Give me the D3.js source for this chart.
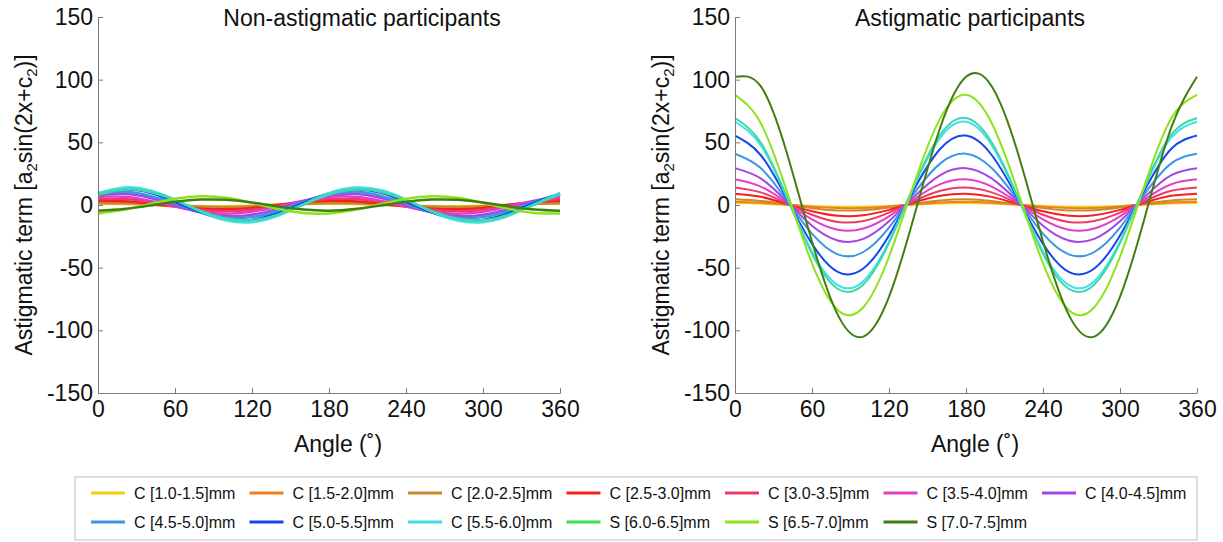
<!DOCTYPE html>
<html>
<head>
<meta charset="utf-8">
<script src="https://cdn.jsdelivr.net/npm/d3@7"></script>
<style>
  body { margin: 0; background: #fff; }
  text { font-family: "Liberation Sans", Arial, sans-serif; fill: #111; }
</style>
</head>
<body>
<svg id="chart" width="1223" height="542"></svg>
<script>
// sampled angles (degrees)
const angles = [0, 20, 40, 60, 80, 100, 120, 140, 160, 180, 200, 220, 240, 260, 280, 300, 320, 340, 360];

const seriesNames = ["C [1.0-1.5]mm", "C [1.5-2.0]mm", "C [2.0-2.5]mm", "C [2.5-3.0]mm", "C [3.0-3.5]mm",
  "C [3.5-4.0]mm", "C [4.0-4.5]mm", "C [4.5-5.0]mm", "C [5.0-5.5]mm", "C [5.5-6.0]mm",
  "S [6.0-6.5]mm", "S [6.5-7.0]mm", "S [7.0-7.5]mm"];

const lineColors = ["#f2cf0c", "#f27f1b", "#c98a2e", "#fb1c1c", "#ee3a68", "#e43fc4", "#a545e6",
  "#3d96e2", "#1547ef", "#43dfe8", "#3cd9a9", "#8ee21c", "#3f7f12"];
const legendColors = ["#f2cf0c", "#f27f1b", "#c98a2e", "#fb1c1c", "#ee3a68", "#e43fc4", "#a545e6",
  "#3d96e2", "#1547ef", "#43dfe8", "#35e055", "#8ee21c", "#3f7f12"];

// Non-astigmatic participants, one row per series, values at `angles`
const nonAstigValues = [
  [1.0, 0.8, 0.2, -0.5, -0.9, -0.9, -0.5, 0.2, 0.8, 1.0, 0.8, 0.2, -0.5, -0.9, -0.9, -0.5, 0.2, 0.8, 1.0],
  [2.0, 1.5, 0.3, -1.0, -1.9, -1.9, -1.0, 0.3, 1.5, 2.0, 1.5, 0.3, -1.0, -1.9, -1.9, -1.0, 0.3, 1.5, 2.0],
  [1.4, 1.4, 0.8, -0.3, -1.1, -1.5, -1.1, -0.3, 0.8, 1.4, 1.4, 0.8, -0.3, -1.1, -1.5, -1.1, -0.3, 0.8, 1.4],
  [3.4, 3.0, 1.2, -1.2, -3.0, -3.4, -2.3, 0.0, 2.3, 3.4, 3.0, 1.2, -1.2, -3.0, -3.4, -2.3, 0.0, 2.3, 3.4],
  [4.7, 4.7, 2.5, -0.9, -3.8, -5.0, -3.8, -0.9, 2.5, 4.7, 4.7, 2.5, -0.9, -3.8, -5.0, -3.8, -0.9, 2.5, 4.7],
  [6.6, 6.6, 3.5, -1.2, -5.4, -7.0, -5.4, -1.2, 3.5, 6.6, 6.6, 3.5, -1.2, -5.4, -7.0, -5.4, -1.2, 3.5, 6.6],
  [7.8, 8.9, 5.8, 0.0, -5.8, -8.9, -7.8, -3.1, 3.1, 7.8, 8.9, 5.8, 0.0, -5.8, -8.9, -7.8, -3.1, 3.1, 7.8],
  [8.5, 10.5, 7.5, 1.1, -5.9, -10.1, -9.6, -4.6, 2.5, 8.5, 10.5, 7.5, 1.1, -5.9, -10.1, -9.6, -4.6, 2.5, 8.5],
  [9.3, 12.5, 9.9, 2.6, -5.9, -11.6, -11.9, -6.6, 1.7, 9.3, 12.5, 9.9, 2.6, -5.9, -11.6, -11.9, -6.6, 1.7, 9.3],
  [9.4, 13.9, 11.9, 4.3, -5.2, -12.4, -13.7, -8.6, 0.5, 9.4, 13.9, 11.9, 4.3, -5.2, -12.4, -13.7, -8.6, 0.5, 9.4],
  [8.4, 12.4, 10.6, 3.9, -4.7, -11.0, -12.2, -7.7, 0.4, 8.4, 12.4, 10.6, 3.9, -4.7, -11.0, -12.2, -7.7, 0.4, 8.4],
  [-6.7, -3.9, 0.7, 5.0, 7.0, 5.7, 1.7, -3.1, -6.4, -6.7, -3.9, 0.7, 5.0, 7.0, 5.7, 1.7, -3.1, -6.4, -6.7],
  [-4.5, -3.2, -0.5, 2.5, 4.3, 4.1, 2.0, -1.1, -3.6, -4.5, -3.2, -0.5, 2.5, 4.3, 4.1, 2.0, -1.1, -3.6, -4.5]
];

// Astigmatic participants
const astigValues = [
  [1.5, 1.1, 0.2, -0.8, -1.4, -1.4, -0.7, 0.4, 1.2, 1.5, 1.1, 0.2, -0.8, -1.4, -1.4, -0.7, 0.4, 1.2, 1.5],
  [2.5, 1.8, 0.3, -1.4, -2.4, -2.3, -1.1, 0.6, 2.0, 2.5, 1.8, 0.3, -1.4, -2.4, -2.3, -1.1, 0.6, 2.0, 2.5],
  [4.5, 3.2, 0.5, -2.5, -4.3, -4.1, -2.0, 1.1, 3.6, 4.5, 3.2, 0.5, -2.5, -4.3, -4.1, -2.0, 1.1, 3.6, 4.5],
  [9.0, 6.5, 0.9, -5.0, -8.6, -8.2, -3.9, 2.2, 7.3, 9.0, 6.5, 0.9, -5.0, -8.6, -8.2, -3.9, 2.2, 7.3, 9.0],
  [14.0, 10.1, 1.5, -7.8, -13.5, -12.8, -6.1, 3.4, 11.3, 14.0, 10.1, 1.5, -7.8, -13.5, -12.8, -6.1, 3.4, 11.3, 14.0],
  [20.5, 14.7, 2.2, -11.5, -19.7, -18.7, -9.0, 5.0, 16.6, 20.5, 14.7, 2.2, -11.5, -19.7, -18.7, -9.0, 5.0, 16.6, 20.5],
  [29.4, 21.2, 3.1, -16.5, -28.3, -27.0, -12.9, 7.1, 23.9, 29.4, 21.2, 3.1, -16.5, -28.3, -27.0, -12.9, 7.1, 23.9, 29.4],
  [40.9, 29.5, 4.3, -22.9, -39.4, -37.5, -18.0, 9.9, 33.2, 40.9, 29.5, 4.3, -22.9, -39.4, -37.5, -18.0, 9.9, 33.2, 40.9],
  [55.4, 39.9, 5.8, -31.0, -53.3, -50.7, -24.3, 13.4, 44.9, 55.4, 39.9, 5.8, -31.0, -53.3, -50.7, -24.3, 13.4, 44.9, 55.4],
  [66.4, 47.8, 7.0, -37.2, -63.9, -60.8, -29.1, 16.1, 53.8, 66.4, 47.8, 7.0, -37.2, -63.9, -60.8, -29.1, 16.1, 53.8, 66.4],
  [69.4, 50.0, 7.3, -38.9, -66.8, -63.5, -30.4, 16.8, 56.2, 69.4, 50.0, 7.3, -38.9, -66.8, -63.5, -30.4, 16.8, 56.2, 69.4],
  [87.9, 65.4, 12.2, -46.6, -83.7, -81.6, -41.3, 18.3, 69.3, 87.9, 65.4, 12.2, -46.6, -83.7, -81.6, -41.3, 18.3, 69.3, 87.9],
  [102.3, 94.8, 42.9, -29.1, -87.5, -105.0, -73.3, -7.4, 62.0, 102.3, 94.8, 42.9, -29.1, -87.5, -105.0, -73.3, -7.4, 62.0, 102.3]
];

const xTicks = [0, 60, 120, 180, 240, 300, 360];
const yTicks = [-150, -100, -50, 0, 50, 100, 150];

const svg = d3.select("#chart");
const axisColor = "#7a7a7a";
const fontSize = 23;

const y = d3.scaleLinear().domain([-150, 150]).range([393, 17]);

function drawPanel(values, x0, x1, title, titleX, lineWidth) {
    const x = d3.scaleLinear().domain([0, 360]).range([x0, x1]);
    const g = svg.append("g");

    const line = d3.line()
        .x((d, i) => x(angles[i]))
        .y(d => y(d))
        .curve(d3.curveNatural);

    g.selectAll(".series")
        .data(values)
        .join("path")
        .attr("class", "series")
        .attr("d", line)
        .attr("fill", "none")
        .attr("stroke", (d, i) => lineColors[i])
        .attr("stroke-width", lineWidth)
        .attr("stroke-linejoin", "round");

    // plain hyphen minus, like the original figure
    const fmt = d => String(d);

    const xAxis = g.append("g")
        .attr("transform", `translate(0,${y(-150)})`)
        .call(d3.axisBottom(x).tickValues(xTicks).tickFormat(fmt).tickSize(-5).tickSizeOuter(0).tickPadding(8));
    const yAxis = g.append("g")
        .attr("transform", `translate(${x0},0)`)
        .call(d3.axisLeft(y).tickValues(yTicks).tickFormat(fmt).tickSize(-5).tickSizeOuter(0).tickPadding(5));

    [xAxis, yAxis].forEach(a => {
        a.select(".domain").attr("stroke", axisColor);
        a.selectAll(".tick line").attr("stroke", axisColor);
        a.selectAll(".tick text")
            .attr("font-size", fontSize)
            .attr("font-family", '"Liberation Sans", Arial, sans-serif')
            .attr("fill", "#111");
    });

    g.append("text")
        .attr("x", titleX)
        .attr("y", 26)
        .attr("text-anchor", "middle")
        .attr("font-size", fontSize)
        .text(title);

    g.append("text")
        .attr("x", (x0 + x1) / 2 + 9)
        .attr("y", 452)
        .attr("text-anchor", "middle")
        .attr("font-size", fontSize)
        .text("Angle (\u02DA)");

    const yt = g.append("text")
        .attr("transform", `translate(${x0 - 66},${y(0)}) rotate(-90)`)
        .attr("text-anchor", "middle")
        .attr("font-size", fontSize);
    yt.append("tspan").text("Astigmatic term [a");
    yt.append("tspan").attr("dy", 5).attr("font-size", 15).text("2");
    yt.append("tspan").attr("dy", -5).text("sin(2x+c");
    yt.append("tspan").attr("dy", 5).attr("font-size", 15).text("2");
    yt.append("tspan").attr("dy", -5).text(")]");
}

drawPanel(nonAstigValues, 98, 560, "Non-astigmatic participants", 362, 2.5);
drawPanel(astigValues, 735, 1197, "Astigmatic participants", 970, 2);

// legend
const legend = svg.append("g");
legend.append("rect")
    .attr("x", 75).attr("y", 477)
    .attr("width", 1122).attr("height", 63)
    .attr("fill", "#fff")
    .attr("stroke", "#d4d4d4")
    .attr("stroke-width", 1.5);

const perRow = 7;
const items = legend.selectAll(".item")
    .data(seriesNames)
    .join("g")
    .attr("class", "item")
    .attr("transform", (d, i) => `translate(${91 + (i % perRow) * 158.5},${493 + Math.floor(i / perRow) * 29})`);

items.append("line")
    .attr("x1", 0).attr("x2", 34)
    .attr("stroke", (d, i) => legendColors[i])
    .attr("stroke-width", 3);

items.append("text")
    .attr("x", 43)
    .attr("y", 6)
    .attr("font-size", 16)
    .text(d => d);
</script>
</body>
</html>
